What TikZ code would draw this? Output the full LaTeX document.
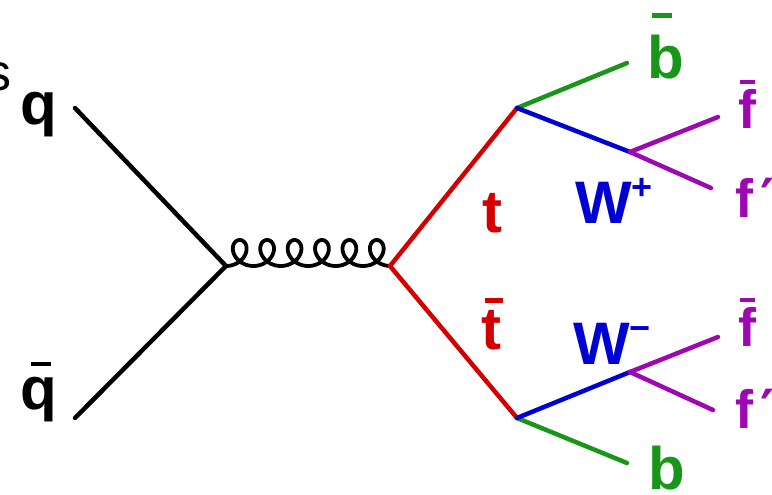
\documentclass[tikz,border=0pt]{standalone}
\usepackage{fontspec}
\setmainfont{Liberation Sans}
\newfontfamily\primefont{DejaVu Sans}
\begin{document}
% letter with a short bar above it: #1 bar shift, #2 bar width, #3 gap, #4 thickness, #5 letter
\newcommand\barlabel[5]{\vbox{\offinterlineskip\hbox{\hspace*{#1}\rule{#2}{#4}}\vskip#3\hbox{#5}}}
\newcommand\chargeup[1]{\raisebox{24pt}{\fontsize{36}{40}\selectfont #1}}
\definecolor{tred}{RGB}{212,0,0}
\definecolor{bgreen}{RGB}{25,150,25}
\definecolor{wblue}{RGB}{0,0,210}
\definecolor{fmag}{RGB}{158,8,178}
\begin{tikzpicture}[x=1pt,y=-1pt,
  leg/.style={line width=4.5pt,line cap=round},
  gluon/.style={line width=3.8pt,line cap=round,line join=round},
  lbl/.style={inner sep=0pt,font=\fontsize{60}{72}\bfseries\selectfont},
  flbl/.style={inner sep=0pt,font=\fontsize{54}{64}\bfseries\selectfont,text=fmag}]
\useasboundingbox (0,0) rectangle (772,495);

% vertices and free ends
\coordinate (v1) at (226,266);
\coordinate (v2) at (390,266);
\coordinate (vt) at (517,108);
\coordinate (vtb) at (517,418);
\coordinate (vwp) at (630,152);
\coordinate (vwm) at (630,372);
\coordinate (eq) at (75,108);
\coordinate (eqb) at (75,418);
\coordinate (ebb) at (627,63);
\coordinate (eb) at (627,463);
\coordinate (ef1) at (718,117);
\coordinate (ef2) at (711,188);
\coordinate (ef3) at (718,337);
\coordinate (ef4) at (713,410);

% incoming quarks
\draw[leg] (eq) -- (v1);
\draw[leg] (eqb) -- (v1);

% gluon propagator
\draw[gluon,shift={(v1)}] plot[samples=361,domain=0:37.699]
  ({4.3634*\x + 13*sin(\x r)},{-13*(1-cos(\x r))});

% top quarks
\draw[leg,tred] (v2) -- (vt);
\draw[leg,tred] (v2) -- (vtb);

% b quarks
\draw[leg,bgreen] (vt) -- (ebb);
\draw[leg,bgreen] (vtb) -- (eb);

% W bosons
\draw[leg,wblue] (vt) -- (vwp);
\draw[leg,wblue] (vtb) -- (vwm);

% W decay products
\draw[leg,fmag] (vwp) -- (ef1);
\draw[leg,fmag] (vwp) -- (ef2);
\draw[leg,fmag] (vwm) -- (ef3);
\draw[leg,fmag] (vwm) -- (ef4);

% labels
\node[inner sep=0pt,font=\fontsize{52}{60}\selectfont,anchor=east] (s) at (12,77) {s};
\node[lbl] (q) at (39,115) {q};
\node[lbl] (qbar) at (39,392) {\barlabel{10pt}{20pt}{11pt}{4.5pt}{q}};
\node[lbl,text=tred] (t) at (492,213) {t};
\node[lbl,text=tred] (tbar) at (492,324) {\barlabel{3pt}{18pt}{8pt}{5pt}{t}};
\node[lbl,text=bgreen] (bbar) at (666,46) {\barlabel{4pt}{20pt}{17pt}{5pt}{b}};
\node[lbl,text=bgreen] (b) at (667,468) {b};
\node[lbl,text=wblue,anchor=base west] (wp) at (575,223) {W\chargeup{+}};
\node[lbl,text=wblue,anchor=base west] (wm) at (573,364) {W\chargeup{−}};
\node[flbl] (fbar1) at (747,104) {\barlabel{2pt}{15pt}{5pt}{4pt}{f}};
\node[flbl,anchor=base west] (fp1) at (735,217) {f{\primefont\kern7pt ′}};
\node[flbl] (fbar2) at (747,322) {\barlabel{2pt}{15pt}{5pt}{4pt}{f}};
\node[flbl,anchor=base west] (fp2) at (735,428) {f{\primefont\kern7pt ′}};
\end{tikzpicture}
\end{document}
